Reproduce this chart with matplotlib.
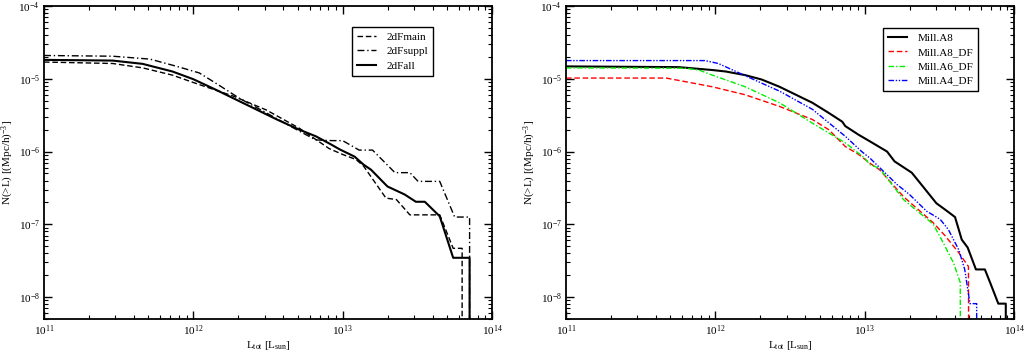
import numpy as np
import matplotlib
matplotlib.use("Agg")
import matplotlib.pyplot as plt

plt.rcParams['font.family'] = ['Liberation Serif', 'DejaVu Serif']
plt.rcParams['mathtext.fontset'] = 'custom'
plt.rcParams['mathtext.rm'] = 'Liberation Serif'
plt.rcParams['mathtext.it'] = 'Liberation Serif:italic'

ZERO = -12.0  # log10 value used where the cumulative count drops to zero

# ---- left panel: 2dF data (log10 L, log10 N) ----
fmain_logL = [11.0, 11.46, 11.66, 11.86, 12.04, 12.27, 12.49, 12.71, 12.91, 13.00,
              13.09, 13.14, 13.29, 13.36, 13.45, 13.65, 13.74, 13.80, 13.80]
fmain_logN = [-4.77, -4.79, -4.85, -4.95, -5.08, -5.24, -5.43, -5.68, -5.96, -6.04,
              -6.11, -6.20, -6.64, -6.66, -6.87, -6.87, -7.33, -7.33, ZERO]

fsuppl_logL = [11.0, 11.46, 11.71, 11.89, 12.04, 12.15, 12.31, 12.49, 12.71, 12.82,
               12.93, 13.00, 13.11, 13.20, 13.35, 13.45, 13.505, 13.65, 13.75, 13.85, 13.85]
fsuppl_logN = [-4.68, -4.69, -4.73, -4.83, -4.92, -5.06, -5.27, -5.47, -5.72, -5.84,
               -5.85, -5.85, -5.98, -5.98, -6.29, -6.29, -6.41, -6.41, -6.90, -6.90, ZERO]

fall_logL = [11.0, 11.46, 11.66, 11.86, 12.0, 12.15, 12.38, 12.56, 12.71, 12.82,
             12.92, 12.98, 13.08, 13.14, 13.19, 13.30, 13.415, 13.49, 13.55, 13.65,
             13.74, 13.85, 13.85]
fall_logN = [-4.74, -4.75, -4.795, -4.90, -5.006, -5.15, -5.38, -5.56, -5.70, -5.79,
             -5.90, -5.97, -6.07, -6.18, -6.25, -6.48, -6.59, -6.69, -6.69, -6.89,
             -7.46, -7.46, ZERO]

# ---- right panel: Millennium models ----
a8_logL = [11.0, 11.755, 11.98, 12.07, 12.20, 12.31, 12.43, 12.54, 12.65, 12.76,
           12.85, 12.87, 12.96, 13.035, 13.15, 13.20, 13.315, 13.39, 13.48, 13.54,
           13.605, 13.65, 13.69, 13.745, 13.805, 13.84, 13.895, 13.945, 13.945]
a8_logN = [-4.83, -4.84, -4.88, -4.90, -4.95, -5.01, -5.11, -5.22, -5.33, -5.47,
           -5.59, -5.65, -5.77, -5.86, -6.00, -6.135, -6.29, -6.48, -6.71, -6.80,
           -6.90, -7.21, -7.32, -7.62, -7.62, -7.80, -8.09, -8.09, ZERO]

a8df_logL = [11.0, 11.67, 11.80, 11.98, 12.20, 12.43, 12.65, 12.76, 12.87, 12.96,
             13.035, 13.10, 13.26, 13.46, 13.54, 13.63, 13.695, 13.70]
a8df_logN = [-4.99, -4.99, -5.04, -5.11, -5.22, -5.38, -5.56, -5.70, -5.93, -6.04,
             -6.16, -6.25, -6.62, -6.98, -7.16, -7.39, -7.58, ZERO]

a6df_logL = [11.0, 11.80, 11.89, 11.98, 12.20, 12.43, 12.65, 12.87, 13.00, 13.035,
             13.10, 13.26, 13.46, 13.525, 13.595, 13.64, 13.645]
a6df_logN = [-4.85, -4.855, -4.88, -4.95, -5.11, -5.33, -5.61, -5.88, -6.09, -6.18,
             -6.23, -6.66, -7.00, -7.25, -7.53, -7.80, ZERO]

a4df_logL = [11.0, 11.93, 12.02, 12.16, 12.31, 12.43, 12.65, 12.87, 12.98, 13.035,
             13.215, 13.30, 13.415, 13.505, 13.56, 13.63, 13.67, 13.705, 13.75, 13.75]
a4df_logN = [-4.75, -4.75, -4.79, -4.92, -5.06, -5.17, -5.42, -5.79, -6.00, -6.09,
             -6.45, -6.59, -6.82, -6.93, -7.07, -7.35, -7.62, -8.09, -8.09, ZERO]

left_labels = ['2dFmain', '2dFsuppl', '2dFall']
right_labels = ['Mill.A8', 'Mill.A8_DF', 'Mill.A6_DF', 'Mill.A4_DF']

fig = plt.figure(figsize=(10.25, 3.56), dpi=100)
axL = fig.add_axes([44/1025, 1-319/356, 448/1025, 313/356])
axR = fig.add_axes([566/1025, 1-319/356, 448/1025, 313/356])

def p(lx, ly):
    return 10**np.array(lx), 10**np.array(ly)

x, y = p(fmain_logL, fmain_logN)
axL.plot(x, y, color='black', lw=1.0, dashes=(4, 2), label=left_labels[0])
x, y = p(fsuppl_logL, fsuppl_logN)
axL.plot(x, y, color='black', lw=1.0, dashes=(5, 2, 1, 2), label=left_labels[1])
x, y = p(fall_logL, fall_logN)
axL.plot(x, y, color='black', lw=1.5, label=left_labels[2])

x, y = p(a8_logL, a8_logN)
axR.plot(x, y, color='black', lw=1.5, label=right_labels[0])
x, y = p(a8df_logL, a8df_logN)
axR.plot(x, y, color='#ff0000', lw=1.0, dashes=(4, 2), label=right_labels[1])
x, y = p(a6df_logL, a6df_logN)
axR.plot(x, y, color='#00ee00', lw=1.0, dashes=(4, 1.5, 1, 1.5), label=right_labels[2])
x, y = p(a4df_logL, a4df_logN)
axR.plot(x, y, color='#0000ff', lw=1.0, dashes=(4, 1.2, 1, 1.2, 1, 1.2), label=right_labels[3])

anchors = {axL: (0.868, 0.932), axR: (0.92, 0.929)}
for ax in (axL, axR):
    ax.set_xscale('log')
    ax.set_yscale('log')
    ax.set_xlim(1e11, 1e14)
    ax.set_ylim(5e-9, 1e-4)
    ax.tick_params(which='both', direction='in', top=True, right=True, labelsize=8, pad=3)
    ax.tick_params(which='major', length=6, width=1.0)
    ax.tick_params(which='minor', length=3, width=0.8)
    for s in ax.spines.values():
        s.set_linewidth(1.3)
    ax.set_xlabel(r'L$_{\rm tot}$ [L$_{\rm sun}$]', fontsize=8, labelpad=1)
    ax.set_ylabel(r'N(>L) [(Mpc/h)$^{-3}$]', fontsize=8, labelpad=2)
    leg = ax.legend(loc='upper right', bbox_to_anchor=anchors[ax], fontsize=8,
                    frameon=True, fancybox=False, edgecolor='black', framealpha=1,
                    handlelength=1.7, handletextpad=0.9, borderpad=0.45,
                    labelspacing=0.4, borderaxespad=0.0)
    leg.get_frame().set_linewidth(1.0)

fig.savefig('out.png', dpi=100)
